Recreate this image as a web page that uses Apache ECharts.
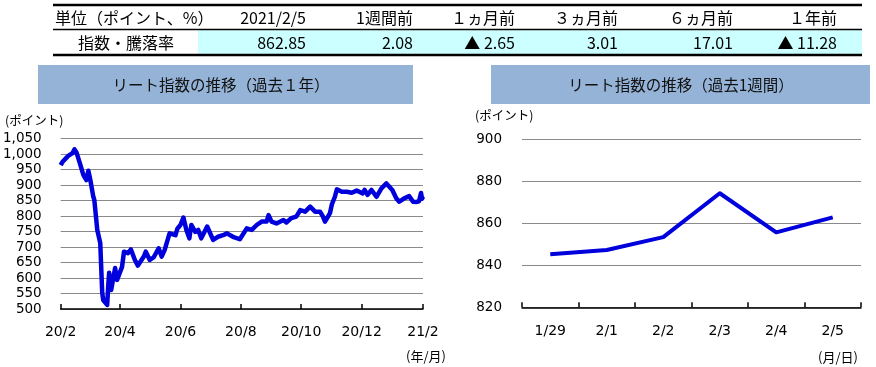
<!DOCTYPE html>
<html><head><meta charset="utf-8">
<script src="https://cdn.jsdelivr.net/npm/echarts@6/dist/echarts.min.js"></script>
<style>html,body{margin:0;padding:0;background:#fff}#c{width:876px;height:367px}</style>
</head><body><div id="c"></div>
<script>
// ---- data ----
const tableHeaderLabel = '単位（ポイント、%）';
const tableRowLabel = '指数・騰落率';
const tableHeaders = ['2021/2/5', '1週間前', '１ヵ月前', '３ヵ月前', '６ヵ月前', '１年前'];
const tableValues = ['862.85', '2.08', '▲ 2.65', '3.01', '17.01', '▲ 11.28'];

const yearTitle = 'リート指数の推移（過去１年）';
const weekTitle = 'リート指数の推移（過去1週間）';
const yUnit = '(ポイント)';
const yearXUnit = '(年/月)';
const weekXUnit = '(月/日)';

const yearDates = [
  '2020-02-05','2020-02-07','2020-02-10','2020-02-13','2020-02-17','2020-02-19','2020-02-21','2020-02-25',
  '2020-02-28','2020-03-02','2020-03-04','2020-03-06','2020-03-09','2020-03-10','2020-03-13','2020-03-16',
  '2020-03-18','2020-03-19','2020-03-23','2020-03-24','2020-03-25','2020-03-27','2020-03-31','2020-04-02',
  '2020-04-07','2020-04-09','2020-04-13','2020-04-16','2020-04-20','2020-04-23','2020-04-29','2020-05-01',
  '2020-05-05','2020-05-09','2020-05-14','2020-05-17','2020-05-20','2020-05-25','2020-05-27','2020-05-31',
  '2020-06-02','2020-06-05','2020-06-08','2020-06-11','2020-06-14','2020-06-16','2020-06-20','2020-06-23',
  '2020-06-26','2020-07-02','2020-07-08','2020-07-13','2020-07-18','2020-07-22','2020-07-28','2020-08-04',
  '2020-08-11','2020-08-16','2020-08-21','2020-08-26','2020-08-31','2020-09-02','2020-09-05','2020-09-10',
  '2020-09-17','2020-09-20','2020-09-25','2020-09-30','2020-10-04','2020-10-09','2020-10-14','2020-10-19',
  '2020-10-24','2020-10-27','2020-10-29','2020-11-01','2020-11-03','2020-11-05','2020-11-08','2020-11-10',
  '2020-11-15','2020-11-20','2020-11-25','2020-11-30','2020-12-06','2020-12-08','2020-12-11','2020-12-15',
  '2020-12-20','2020-12-25','2020-12-30','2021-01-05','2021-01-09','2021-01-12','2021-01-17','2021-01-22',
  '2021-01-26','2021-01-29','2021-02-01','2021-02-02','2021-02-03','2021-02-04','2021-02-05'
];
const yearValues = [
  964, 975, 985, 995, 1003, 1015, 1005, 964,
  932, 916, 946, 916, 862, 852, 755, 713,
  552, 529, 513, 572, 617, 561, 632, 594,
  636, 685, 680, 692, 658, 640, 669, 685,
  658, 667, 696, 669, 690, 744, 749, 738,
  760, 771, 795, 755, 728, 771, 749, 755,
  728, 766, 723, 733, 738, 744, 733, 725,
  760, 755, 771, 782, 782, 803, 782, 776,
  787, 779, 793, 798, 819, 814, 830, 814,
  814, 798, 782, 798, 809, 838, 862, 886,
  878, 878, 875, 882, 873, 884, 868, 884,
  862, 889, 905, 884, 857, 846, 857, 864,
  846, 845.3, 847.3, 853.4, 874.3, 855.7, 862.85
];
const yearTicks = ['2020-02-05','2020-04-05','2020-06-05','2020-08-05','2020-10-05','2020-12-05','2021-02-05'];

const weekCats = ['1/29', '2/1', '2/2', '2/3', '2/4', '2/5'];
const weekValues = [845.3, 847.3, 853.4, 874.3, 855.7, 862.85];

// ---- helpers ----
function ts(s) { const p = s.split('-').map(Number); return new Date(p[0], p[1] - 1, p[2]).getTime(); }
const FONT = '"Noto Sans CJK JP", "Noto Sans", sans-serif';
const NUMFONT = '"DejaVu Sans", Verdana, sans-serif';
const LINE = '#0000DD';
const GRID = '#8a8a8a';

const chart = echarts.init(document.getElementById('c'), null, { renderer: 'canvas' });

// table graphics
const colRight = [306, 413, 515, 618, 733, 837];
const g = [];
g.push({ type: 'rect', shape: { x: 198, y: 30, width: 664, height: 24 }, style: { fill: '#CCFFFF' }, silent: true });
g.push({ type: 'line', shape: { x1: 53, y1: 5, x2: 862, y2: 5 }, style: { stroke: '#000', lineWidth: 2.5 } });
g.push({ type: 'line', shape: { x1: 53, y1: 29.5, x2: 862, y2: 29.5 }, style: { stroke: '#000', lineWidth: 1.5 } });
g.push({ type: 'line', shape: { x1: 53, y1: 55, x2: 862, y2: 55 }, style: { stroke: '#000', lineWidth: 2.5 } });
g.push({ type: 'text', x: 55, y: 17.5, style: { text: tableHeaderLabel, font: '16px ' + FONT, fill: '#000', align: 'left', verticalAlign: 'middle' } });
g.push({ type: 'text', x: 126, y: 42.5, style: { text: tableRowLabel, font: '16px ' + FONT, fill: '#000', align: 'center', verticalAlign: 'middle' } });
tableHeaders.forEach((t, i) => {
  g.push({ type: 'text', x: colRight[i], y: 17.5, style: { text: t, font: '16px ' + FONT, fill: '#000', align: 'right', verticalAlign: 'middle' } });
  g.push({ type: 'text', x: colRight[i], y: 42.5, style: { text: tableValues[i], font: '16px ' + FONT, fill: '#000', align: 'right', verticalAlign: 'middle' } });
});
// title boxes
g.push({ type: 'rect', shape: { x: 38, y: 65, width: 375, height: 39 }, style: { fill: '#95B3D7' } });
g.push({ type: 'rect', shape: { x: 491, y: 65, width: 379, height: 39 }, style: { fill: '#95B3D7' } });
g.push({ type: 'text', x: 221, y: 85, style: { text: yearTitle, font: '15.5px ' + FONT, fill: '#111', align: 'center', verticalAlign: 'middle' } });
g.push({ type: 'text', x: 681, y: 85, style: { text: weekTitle, font: '15.5px ' + FONT, fill: '#111', align: 'center', verticalAlign: 'middle' } });
// unit labels
g.push({ type: 'text', x: 5, y: 120, style: { text: yUnit, font: '12.5px ' + FONT, fill: '#000', align: 'left', verticalAlign: 'middle' } });
g.push({ type: 'text', x: 475, y: 115, style: { text: yUnit, font: '12.5px ' + FONT, fill: '#000', align: 'left', verticalAlign: 'middle' } });
g.push({ type: 'text', x: 406, y: 356, style: { text: yearXUnit, font: '13px ' + FONT, fill: '#000', align: 'left', verticalAlign: 'middle' } });
g.push({ type: 'text', x: 818, y: 357, style: { text: weekXUnit, font: '13px ' + FONT, fill: '#000', align: 'left', verticalAlign: 'middle' } });

const axisLabelBase = { color: '#000', fontFamily: NUMFONT, fontSize: 13.5 };
const tickVals = yearTicks.map(ts);

chart.setOption({
  animation: false,
  backgroundColor: '#fff',
  graphic: { elements: g },
  grid: [
    { left: 60, top: 138.5, width: 363, height: 170.5 },
    { left: 522, top: 139.3, width: 339, height: 168 }
  ],
  xAxis: [
    {
      type: 'value', gridIndex: 0,
      min: ts(yearDates[0]), max: ts(yearDates[yearDates.length - 1]),
      axisLine: { show: true, lineStyle: { color: '#000', width: 1.5 } },
      axisTick: { show: true, inside: true, length: 5, lineStyle: { color: '#000', width: 1.5 }, customValues: tickVals },
      axisLabel: {
        ...axisLabelBase, fontSize: 14, margin: 16,
        customValues: tickVals,
        formatter: v => { const d = new Date(v); return (d.getFullYear() % 100) + '/' + (d.getMonth() + 1); }
      },
      splitLine: { show: false }
    },
    {
      type: 'category', gridIndex: 1, data: weekCats, boundaryGap: true,
      axisLine: { show: true, lineStyle: { color: '#000', width: 1.5 } },
      axisTick: { show: true, inside: true, length: 5, interval: 0, lineStyle: { color: '#000', width: 1.5 } },
      axisLabel: { ...axisLabelBase, fontSize: 14, margin: 17, interval: 0 },
      splitLine: { show: false }
    }
  ],
  yAxis: [
    {
      type: 'value', gridIndex: 0, min: 500, max: 1050, interval: 50,
      axisLine: { show: false }, axisTick: { show: false },
      axisLabel: { ...axisLabelBase, margin: 19, formatter: v => v.toLocaleString('en-US') },
      splitLine: { show: true, lineStyle: { color: GRID, width: 1 } }
    },
    {
      type: 'value', gridIndex: 1, min: 820, max: 900, interval: 20,
      axisLine: { show: false }, axisTick: { show: false },
      axisLabel: { ...axisLabelBase, margin: 20 },
      splitLine: { show: true, lineStyle: { color: GRID, width: 1 } }
    }
  ],
  series: [
    {
      type: 'line', xAxisIndex: 0, yAxisIndex: 0,
      data: yearDates.map((d, i) => [ts(d), yearValues[i]]),
      showSymbol: false, symbol: 'none', clip: false,
      lineStyle: { color: LINE, width: 4.5, join: 'round' }
    },
    {
      type: 'line', xAxisIndex: 1, yAxisIndex: 1,
      data: weekValues,
      showSymbol: false, symbol: 'none',
      lineStyle: { color: LINE, width: 4, join: 'round' }
    }
  ]
});
</script></body></html>
